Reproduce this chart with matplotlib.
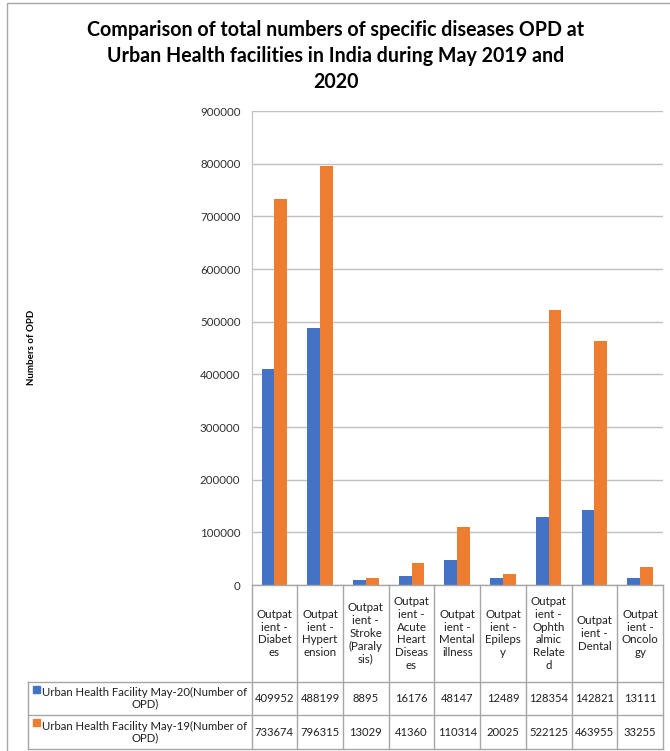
import matplotlib
matplotlib.use('Agg')
import matplotlib.pyplot as plt
from matplotlib.lines import Line2D
from matplotlib.patches import Rectangle
import numpy as np

plt.rcParams['font.family'] = ['Lato', 'DejaVu Sans']

# 数据
categories = ['Outpat\nient -\nDiabet\nes', 'Outpat\nient -\nHypert\nension',
              'Outpat\nient -\nStroke\n(Paraly\nsis)', 'Outpat\nient -\nAcute\nHeart\nDiseas\nes',
              'Outpat\nient -\nMental\nillness', 'Outpat\nient -\nEpileps\ny',
              'Outpat\nient -\nOphth\nalmic\nRelate\nd', 'Outpat\nient -\nDental',
              'Outpat\nient -\nOncolo\ngy']
may20 = [409952, 488199, 8895, 16176, 48147, 12489, 128354, 142821, 13111]
may19 = [733674, 796315, 13029, 41360, 110314, 20025, 522125, 463955, 33255]
series_names = ['Urban Health Facility May-20(Number of\nOPD)',
                'Urban Health Facility May-19(Number of\nOPD)']
colors = ['#4472C4', '#ED7D31']
yticks = np.arange(0, 900001, 100000)

W, H = 670, 751
fig = plt.figure(figsize=(W / 100, H / 100), dpi=100)


def fx(px):
    return px / W


def fy(py):
    return 1 - py / H


# 绘图区
ax_l, ax_r, ax_t, ax_b = 251.5, 663, 111, 585
ax = fig.add_axes([fx(ax_l), fy(ax_b), fx(ax_r - ax_l), (ax_b - ax_t) / H])
x = np.arange(len(categories))
w = 0.28
ax.bar(x - w / 2, may20, w, color=colors[0], zorder=3)
ax.bar(x + w / 2, may19, w, color=colors[1], zorder=3)
ax.set_xlim(-0.5, len(categories) - 0.5)
ax.set_ylim(0, 900000)
ax.set_yticks(yticks)
ax.set_yticklabels([str(v) for v in yticks], fontsize=8.3, color='#303030')
ax.tick_params(axis='y', length=0, pad=8)
ax.set_xticks([])
ax.grid(axis='y', color='#BFBFBF', linewidth=1, zorder=0)
for s in ['top', 'right', 'bottom']:
    ax.spines[s].set_visible(False)
ax.spines['left'].set_color('#BFBFBF')

# 标题
fig.text(fx(336), fy(56), 'Comparison of total numbers of specific diseases OPD at\n'
         'Urban Health facilities in India during May 2019 and\n2020',
         ha='center', va='center', fontsize=14.1, fontweight='bold', linespacing=1.4)
fig.text(fx(31), fy(347), 'Numbers of OPD', rotation=90, ha='center', va='center',
         fontsize=7, fontweight='bold')

# 外框
fig.add_artist(Rectangle((fx(7), fy(H + 5)), fx(W), (H + 2) / H, transform=fig.transFigure,
                         fill=False, edgecolor='#A6A6A6', linewidth=1))

# 数据表
gc = '#A6A6A6'
n = len(categories)
col_w = (ax_r - ax_l) / n
edges = [ax_l + i * col_w for i in range(n + 1)]
tab_l, row_top, row_mid, row_bot = 28, 682, 715, 749
tc = '#202020'


def hline(y, x0, x1):
    fig.add_artist(Line2D([fx(x0), fx(x1)], [fy(y), fy(y)], transform=fig.transFigure,
                          color=gc, linewidth=1))


def vline(xp, y0, y1):
    fig.add_artist(Line2D([fx(xp), fx(xp)], [fy(y0), fy(y1)], transform=fig.transFigure,
                          color=gc, linewidth=1))


hline(ax_b, ax_l, ax_r)
for yy in [row_top, row_mid, row_bot]:
    hline(yy, tab_l, ax_r)
for e in edges:
    vline(e, ax_b, row_bot)
vline(tab_l, row_top, row_bot)

for i, cat in enumerate(categories):
    cx = (edges[i] + edges[i + 1]) / 2
    fig.text(fx(cx), fy((ax_b + row_top) / 2), cat, ha='center', va='center',
             fontsize=8.3, linespacing=1.2, color=tc)
    fig.text(fx(cx), fy((row_top + row_mid) / 2), str(may20[i]), ha='center', va='center',
             fontsize=8.1, color=tc)
    fig.text(fx(cx), fy((row_mid + row_bot) / 2), str(may19[i]), ha='center', va='center',
             fontsize=8.1, color=tc)

for k, (name, (y0, y1)) in enumerate(zip(series_names, [(row_top, row_mid), (row_mid, row_bot)])):
    cy = (y0 + y1) / 2
    fig.add_artist(Rectangle((fx(33), fy(y0 + 11)), fx(7), 7 / H, transform=fig.transFigure,
                             color=colors[k]))
    fig.text(fx(145), fy(cy), name, ha='center', va='center', fontsize=8.2,
             linespacing=1.05, color=tc)

fig.savefig('out.png', dpi=100)
